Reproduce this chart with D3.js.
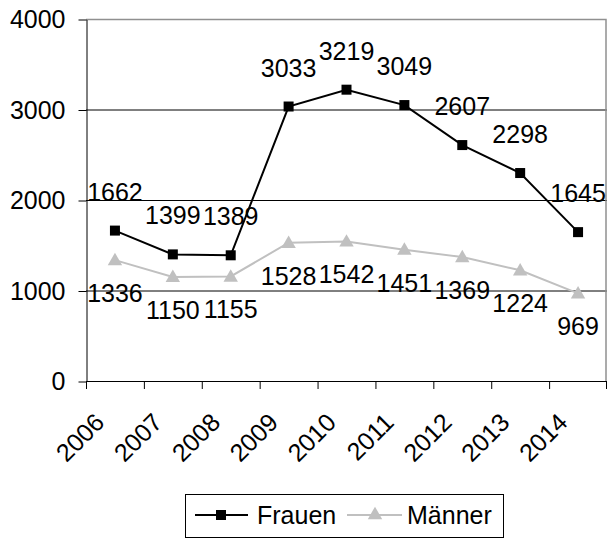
<!DOCTYPE html>
<html>
<head>
<meta charset="utf-8">
<script src="https://d3js.org/d3.v7.min.js"></script>
<style>
  body { margin: 0; background: #fff; }
  svg text { font-family: 'Liberation Sans', Arial, sans-serif; font-size: 25px; fill: #000; }
</style>
</head>
<body>
<div id="chart"></div>
<script>
  // chart data
  var years = ["2006", "2007", "2008", "2009", "2010", "2011", "2012", "2013", "2014"];
  var frauen = [1662, 1399, 1389, 3033, 3219, 3049, 2607, 2298, 1645];
  var maenner = [1336, 1150, 1155, 1528, 1542, 1451, 1369, 1224, 969];
  var yTicks = [0, 1000, 2000, 3000, 4000];

  var svg = d3.select("#chart").append("svg")
      .attr("width", 608)
      .attr("height", 538);

  // plot area (note: "top" is reserved on window, so use other names)
  var pLeft = 86, pRight = 607, pTop = 19, pBottom = 381;

  var x = d3.scaleBand().domain(years).range([pLeft, pRight]).padding(0);
  var y = d3.scaleLinear().domain([0, 4000]).range([pBottom, pTop]);

  // gridlines
  svg.selectAll("line.grid")
      .data(yTicks.filter(function (d) { return d > 0 && d < 4000; }))
      .enter().append("line")
      .attr("x1", pLeft).attr("x2", pRight)
      .attr("y1", function (d) { return y(d) + 0.5; })
      .attr("y2", function (d) { return y(d) + 0.5; })
      .style("stroke", "#000")
      .style("stroke-width", 1);

  // grey plot border (top and right)
  svg.append("path")
      .attr("d", "M" + pLeft + "," + (pTop + 0.5) + "H" + (pRight - 1) + "V" + pBottom)
      .style("fill", "none")
      .style("stroke", "#909090")
      .style("stroke-width", 1.5);

  // y axis
  var yAxis = svg.append("g")
      .attr("transform", "translate(" + (pLeft + 0.5) + ",0.5)")
      .call(d3.axisLeft(y).tickValues(yTicks).tickSize(8).tickSizeOuter(0).tickPadding(13)
          .tickFormat(d3.format("d")));
  yAxis.select(".domain").style("stroke", "#000");
  yAxis.selectAll(".tick line").style("stroke", "#000");
  yAxis.selectAll("text").style("font-size", "25px").style("font-family", "'Liberation Sans', Arial, sans-serif");

  // x axis line
  svg.append("line")
      .attr("x1", pLeft).attr("x2", pRight)
      .attr("y1", pBottom + 0.5).attr("y2", pBottom + 0.5)
      .style("stroke", "#000");

  // x ticks at band boundaries
  var bounds = years.map(function (d) { return x(d); }).concat([x.range()[1]]);
  svg.selectAll("line.xtick")
      .data(bounds)
      .enter().append("line")
      .attr("x1", function (d) { return Math.min(d, 606) + 0.5; })
      .attr("x2", function (d) { return Math.min(d, 606) + 0.5; })
      .attr("y1", pBottom)
      .attr("y2", pBottom + 8)
      .style("stroke", "#000");

  // rotated x labels
  svg.selectAll("text.xlab")
      .data(years)
      .enter().append("text")
      .attr("text-anchor", "end")
      .attr("transform", function (d) {
        return "translate(" + (x(d) + x.bandwidth() / 2 - 9) + "," + (pBottom + 43) + ") rotate(-45)";
      })
      .text(function (d) { return d; });

  var cx = function (d, i) { return x(years[i]) + x.bandwidth() / 2; };

  var line = d3.line()
      .x(function (d, i) { return cx(d, i); })
      .y(function (d) { return y(d); });

  // Männer series
  svg.append("path")
      .datum(maenner)
      .attr("d", line)
      .style("fill", "none")
      .style("stroke", "#c0c0c0")
      .style("stroke-width", 2);
  var tri = d3.symbol().type(d3.symbolTriangle).size(90);
  svg.selectAll("path.mtri")
      .data(maenner)
      .enter().append("path")
      .attr("d", tri)
      .attr("transform", function (d, i) { return "translate(" + cx(d, i) + "," + (y(d) + 1) + ")"; })
      .style("fill", "#c0c0c0");

  // Frauen series
  svg.append("path")
      .datum(frauen)
      .attr("d", line)
      .style("fill", "none")
      .style("stroke", "#000")
      .style("stroke-width", 2);
  svg.selectAll("rect.fsq")
      .data(frauen)
      .enter().append("rect")
      .attr("x", function (d, i) { return cx(d, i) - 5; })
      .attr("y", function (d) { return y(d) - 5; })
      .attr("width", 10)
      .attr("height", 10)
      .style("fill", "#000");

  // value labels
  svg.selectAll("text.flab")
      .data(frauen)
      .enter().append("text")
      .attr("text-anchor", "middle")
      .attr("x", function (d, i) { return cx(d, i); })
      .attr("y", function (d) { return y(d) - 30; })
      .text(function (d) { return d; });

  svg.selectAll("text.mlab")
      .data(maenner)
      .enter().append("text")
      .attr("text-anchor", "middle")
      .attr("x", function (d, i) { return cx(d, i); })
      .attr("y", function (d) { return y(d) + 42; })
      .text(function (d) { return d; });

  // legend
  var lg = svg.append("g");
  lg.append("rect")
      .attr("x", 185.5).attr("y", 494.5)
      .attr("width", 318).attr("height", 43)
      .style("fill", "#fff")
      .style("stroke", "#000");
  lg.append("line")
      .attr("x1", 195).attr("x2", 248).attr("y1", 515).attr("y2", 515)
      .style("stroke", "#000").style("stroke-width", 2);
  lg.append("rect")
      .attr("x", 216).attr("y", 510).attr("width", 10).attr("height", 10)
      .style("fill", "#000");
  lg.append("text").attr("x", 257).attr("y", 524).text("Frauen");
  lg.append("line")
      .attr("x1", 347).attr("x2", 402).attr("y1", 515).attr("y2", 515)
      .style("stroke", "#c0c0c0").style("stroke-width", 2);
  lg.append("path")
      .attr("d", tri)
      .attr("transform", "translate(375,515)")
      .style("fill", "#c0c0c0");
  lg.append("text").attr("x", 407).attr("y", 524).text("Männer");
</script>
</body>
</html>
